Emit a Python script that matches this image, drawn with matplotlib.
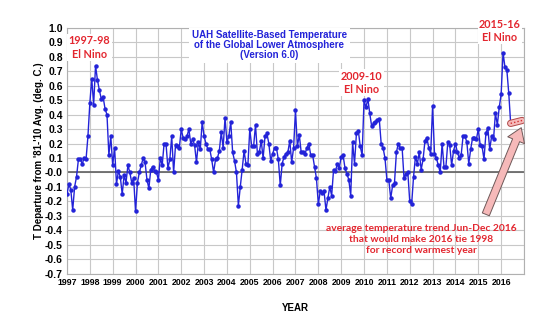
import matplotlib
matplotlib.use("Agg")
import matplotlib.pyplot as plt
import numpy as np

# ---------------- data (UAH v6.0 monthly anomalies, Jan 1997 - Jun 2016) -------------
start_year = 1997
y1997 = [-0.15, -0.08, -0.12, -0.26, -0.10, -0.03, 0.09, 0.09, 0.06, 0.10, 0.09, 0.25]
y1998 = [0.48, 0.65, 0.47, 0.74, 0.64, 0.57, 0.51, 0.52, 0.44, 0.40, 0.12, 0.25]
y1999 = [0.05, 0.17, -0.08, 0.01, -0.03, -0.15, -0.02, -0.07, 0.05, 0.00, -0.07, -0.04]
y2000 = [-0.27, -0.07, 0.00, 0.05, 0.10, 0.07, -0.05, -0.11, 0.02, 0.04, 0.01, 0.00]
y2001 = [-0.05, 0.10, 0.05, 0.20, 0.20, 0.03, 0.09, 0.25, 0.00, 0.19, 0.18, 0.17]
y2002 = [0.30, 0.24, 0.23, 0.25, 0.30, 0.20, 0.23, 0.19, 0.07, 0.21, 0.16, 0.35]
y2003 = [0.25, 0.20, 0.16, 0.16, 0.09, 0.00, 0.09, 0.10, 0.15, 0.28, 0.17, 0.38]
y2004 = [0.21, 0.25, 0.35, 0.14, 0.08, 0.00, -0.23, -0.10, 0.02, 0.15, 0.06, 0.05]
y2005 = [0.30, 0.18, 0.18, 0.33, 0.13, 0.14, 0.22, 0.10, 0.25, 0.27, 0.20, 0.08]
y2006 = [0.13, 0.17, 0.17, 0.09, -0.09, 0.06, 0.11, 0.13, 0.14, 0.22, 0.07, 0.17]
y2007 = [0.43, 0.18, 0.26, 0.14, 0.14, 0.13, 0.17, 0.20, 0.12, 0.12, 0.04, -0.04]
y2008 = [-0.22, -0.13, -0.14, -0.13, -0.26, -0.18, -0.10, -0.16, 0.02, 0.01, 0.06, 0.03]
y2009 = [0.11, 0.12, 0.03, -0.01, -0.05, -0.16, 0.21, 0.06, 0.27, 0.29, 0.18, 0.12]
y2010 = [0.50, 0.45, 0.51, 0.41, 0.32, 0.34, 0.35, 0.36, 0.37, 0.20, 0.17, 0.10]
y2011 = [-0.05, -0.05, -0.18, -0.09, -0.07, 0.14, 0.20, 0.17, 0.17, -0.04, -0.01, 0.00]
y2012 = [-0.20, -0.22, -0.03, 0.11, 0.06, 0.14, 0.02, 0.09, 0.22, 0.24, 0.17, 0.13]
y2013 = [0.46, 0.13, 0.10, 0.05, 0.00, 0.20, 0.04, 0.04, 0.21, 0.19, 0.05, 0.15]
y2014 = [0.20, 0.14, 0.10, 0.12, 0.25, 0.25, 0.21, 0.06, 0.16, 0.24, 0.24, 0.23]
y2015 = [0.30, 0.19, 0.18, 0.09, 0.27, 0.31, 0.16, 0.25, 0.23, 0.41, 0.33, 0.45]
y2016 = [0.54, 0.83, 0.73, 0.71, 0.55, 0.34]

# trend Jun-Dec 2016 needed to tie 1998
trend_months = [2016 + 5/12, 2016 + 11/12]
trend_values = [0.34, 0.36]

# arrow (tail -> head), in data coordinates
arrow_tail = (2015.33, -0.29)
arrow_head = (2016.88, 0.31)

year_ticks = list(range(1997, 2017))
y_ticks = [round(v, 1) for v in np.arange(-0.7, 1.01, 0.1)]

anomalies = (y1997 + y1998 + y1999 + y2000 + y2001 + y2002 + y2003 + y2004 + y2005 +
             y2006 + y2007 + y2008 + y2009 + y2010 + y2011 + y2012 + y2013 + y2014 +
             y2015 + y2016)
months = [start_year + i / 12 for i in range(len(anomalies))]

# ---------------- figure -------------------------------------------------------------
fig = plt.figure(figsize=(5.5, 3.3), dpi=100)
ax = fig.add_axes([0.1218, 0.171, 0.8309, 0.744])

ax.set_xlim(1997, 2017)
ax.set_ylim(-0.7, 1.0)
ax.set_xticks(year_ticks + [2017])
ax.set_xticklabels([str(y) for y in year_ticks] + [""])
ax.set_yticks(y_ticks)
ax.set_yticklabels([f"{v:.1f}" for v in y_ticks])
ax.grid(True, color="#C8C8C8", linewidth=0.8, zorder=0)
ax.set_axisbelow(True)
for s in ax.spines.values():
    s.set_color("#B0B0B0")
    s.set_linewidth(0.8)
ax.tick_params(length=0, pad=3)
for lab in ax.get_yticklabels():
    lab.set_fontfamily("Liberation Sans")
    lab.set_fontweight("bold")
    lab.set_fontsize(7.5)
for lab in ax.get_xticklabels():
    lab.set_fontfamily("Liberation Sans")
    lab.set_fontweight("bold")
    lab.set_fontsize(6.3)

ax.axhline(0, color="#606060", linewidth=1.2, zorder=1)

ax.plot(months, anomalies, color="#2323D8", linewidth=1.0, marker="o",
        markersize=2.2, zorder=3)

ax.set_xlabel("YEAR", fontfamily="Liberation Sans", fontweight="bold",
              fontsize=7, labelpad=12)
ax.set_ylabel("T Departure from '81-'10 Avg. (deg. C.)", fontfamily="Liberation Sans",
              fontweight="bold", fontsize=7)
ax.yaxis.set_label_coords(-0.05, 0.5)

# title box
ax.text(2005.86, 0.882, "UAH Satellite-Based Temperature\nof the Global Lower Atmosphere\n(Version 6.0)",
        ha="center", va="center", color="#2323D8", fontfamily="Liberation Sans",
        fontweight="bold", fontsize=7, linespacing=0.95, zorder=4,
        bbox=dict(facecolor="white", edgecolor="none", pad=2))

red = "#E3262F"
lab_kw = dict(ha="center", va="center", color=red, fontfamily="Lato",
              fontweight="bold", fontsize=7.8, linespacing=1.25, zorder=4)
ax.text(1997.98, 0.866, "1997-98\nEl Nino",
        bbox=dict(facecolor="white", edgecolor="none", pad=1), **lab_kw)
ax.text(2009.88, 0.62, "2009-10\nEl Nino",
        bbox=dict(facecolor="white", edgecolor="none", pad=1), **lab_kw)
ax.text(2015.95, 0.98, "2015-16\nEl Nino", clip_on=False,
        bbox=dict(facecolor="white", edgecolor="none", pad=1), **lab_kw)
ax.text(2012.5, -0.465,
        "average temperature trend Jun-Dec 2016\nthat would make 2016 tie 1998\nfor record warmest year",
        ha="center", va="center", color=red, fontfamily="Lato", fontweight="bold",
        fontsize=7.4, linespacing=1.3, zorder=4)

# arrow
ax.annotate("", xy=arrow_head, xytext=arrow_tail, zorder=5,
            arrowprops=dict(arrowstyle="simple,head_length=0.75,head_width=1.0,tail_width=0.42",
                            mutation_scale=13, facecolor="#F6B9B9", edgecolor="#6E5858",
                            linewidth=0.7, shrinkA=0, shrinkB=0))

# trend marker
ax.plot(trend_months, trend_values, color="#B04848", linewidth=5.2,
        solid_capstyle="round", zorder=5)
ax.plot(trend_months, trend_values, color="#F6B9B9", linewidth=3.8,
        solid_capstyle="round", zorder=6)
ax.plot(trend_months, trend_values, color="#D03030", linewidth=1.0,
        linestyle=(0, (1, 1.5)), zorder=7)

fig.savefig("out.png", dpi=100)
